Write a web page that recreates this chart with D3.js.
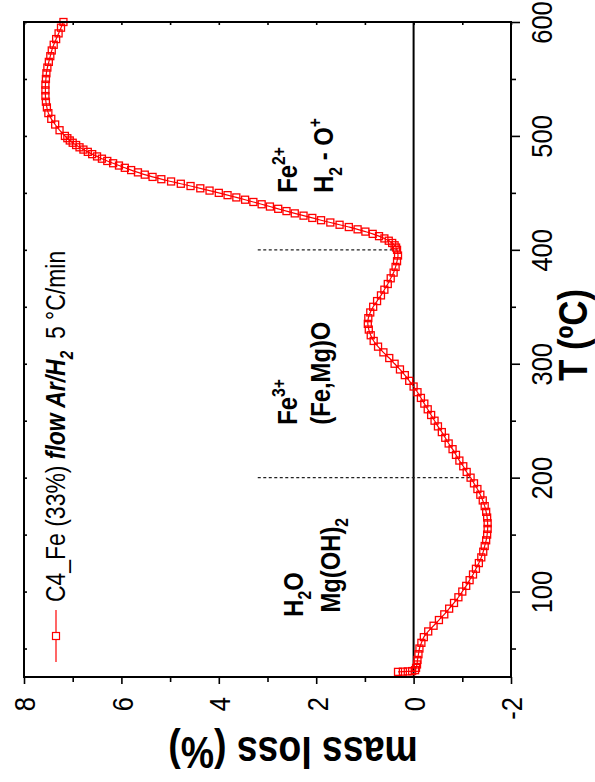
<!DOCTYPE html>
<html lang="en">
<head>
  <meta charset="UTF-8">
  <title>C4_Fe mass loss</title>
  <script src="https://d3js.org/d3.v7.min.js"></script>
  <style>
    html, body {
      margin: 0;
      background-color: #ffffff;
    }
    svg {
      display: block;
    }
  </style>
</head>
<body>
  <div id="chart"></div>

  <script type="text/javascript">
    // temperature (ºC) and mass loss (%)
    const temps = [
      29.5, 29.7, 29.9, 30.2, 31, 33, 36, 40, 45, 50, 55, 60, 65, 70, 75, 80, 85, 90, 95,
      100, 105, 110, 115, 120, 125, 130, 135, 140, 145, 150, 155, 160, 165, 170, 175, 180, 185, 190, 195,
      200, 205, 210, 215, 220, 225, 230, 235, 240, 245, 250, 255, 260, 265, 270, 275, 280, 285, 290, 295,
      300, 305, 310, 315, 320, 325, 330, 335, 340, 345, 350, 355, 360, 365, 370, 375, 380, 385, 390, 395,
      400, 402, 404, 406, 408, 410, 412, 414, 416, 418, 420, 422, 424, 426, 428, 430, 432, 434, 436, 438,
      440, 442, 444, 446, 448, 450, 452, 454, 456, 458, 460, 462, 464, 466, 468, 470, 472, 474, 476, 478,
      480, 482, 484, 486, 488, 490, 492, 494, 496, 498,
      500, 505, 510, 515, 520, 525, 530, 535, 540, 545, 550, 555, 560, 565, 570, 575, 580, 585, 590, 595, 600
    ]
    const massLoss = [
      0.32, 0.22, 0.12, 0.03, -0.03, -0.05, -0.07, -0.08, -0.1, -0.12, -0.16, -0.21, -0.3, -0.41, -0.52, -0.63, -0.73, -0.83, -0.92,
      -1.0, -1.08, -1.15, -1.22, -1.28, -1.34, -1.39, -1.43, -1.46, -1.49, -1.51, -1.52, -1.52, -1.51, -1.49, -1.46, -1.42, -1.37, -1.31, -1.24,
      -1.17, -1.09, -1.02, -0.94, -0.87, -0.8, -0.72, -0.65, -0.58, -0.5, -0.43, -0.36, -0.29, -0.22, -0.15, -0.08, 0.0, 0.09, 0.18, 0.28,
      0.39, 0.5, 0.62, 0.73, 0.82, 0.88, 0.92, 0.94, 0.93, 0.89, 0.83, 0.75, 0.67, 0.6, 0.53, 0.47, 0.41, 0.37, 0.34, 0.32,
      0.34, 0.36, 0.39, 0.44, 0.51, 0.6, 0.71, 0.84, 0.99, 1.15, 1.33, 1.52, 1.71, 1.9, 2.08, 2.26, 2.44, 2.61, 2.78, 2.95,
      3.12, 3.29, 3.46, 3.64, 3.82, 4.0, 4.19, 4.38, 4.58, 4.78, 4.98, 5.18, 5.36, 5.52, 5.66, 5.8, 5.93, 6.05, 6.17, 6.29,
      6.4, 6.5, 6.6, 6.69, 6.78, 6.86, 6.93, 7.0, 7.06, 7.11,
      7.16, 7.27, 7.36, 7.44, 7.5, 7.53, 7.55, 7.56, 7.56, 7.56, 7.55, 7.54, 7.52, 7.49, 7.46, 7.43, 7.39, 7.34, 7.29, 7.24, 7.19
    ]

    const tempTicks = [100, 200, 300, 400, 500, 600]
    const tempMinorTicks = [50, 150, 250, 350, 450, 550]
    const massTicks = [8, 6, 4, 2, 0, -2]
    const massMinorTicks = [7, 5, 3, 1, -1]
    const markedTemps = [200, 400]

    const width = 595
    const height = 782
    const plotLeft = 24
    const plotRight = 511
    const plotTop = 22
    const plotBottom = 677
    const narrow = 0.85
    const fontFamily = "'Liberation Sans', Arial, sans-serif"
    const red = '#ff0000'

    // the figure is turned a quarter turn: temperature runs upward, mass loss runs to the left
    const yT = d3.scaleLinear().domain([25, 600]).range([plotBottom, plotTop])
    const xM = d3.scaleLinear().domain([8, -2]).range([plotLeft, plotRight])

    const svg = d3.select('#chart').append('svg')
      .attr('width', width)
      .attr('height', height)
      .attr('font-family', fontFamily)

    // text helper: parts may be bold / italic / sub / sup
    const richText = (x, y, angle, size, parts, anchor) => {
      const t = svg.append('text')
        .attr('transform', `translate(${x},${y}) rotate(${angle}) scale(${narrow},1)`)
        .attr('font-size', size)
        .attr('text-anchor', anchor || 'start')
        .attr('fill', '#000')
        .style('white-space', 'pre')
      let shift = 0
      parts.forEach(p => {
        let s = 0
        if (p.sub) s = size * 0.3
        if (p.sup) s = -size * 0.42
        t.append('tspan')
          .text(p.t)
          .attr('dy', s - shift)
          .attr('dx', p.dx || 0)
          .attr('font-size', p.sub || p.sup ? size * 0.66 : size)
          .attr('font-weight', p.bold ? 'bold' : 'normal')
          .attr('font-style', p.italic ? 'italic' : 'normal')
        shift = s
      })
      return t
    }

    // zero line
    svg.append('line')
      .attr('x1', xM(0))
      .attr('x2', xM(0))
      .attr('y1', plotTop)
      .attr('y2', plotBottom)
      .attr('stroke', '#000')
      .attr('stroke-width', 2)

    // dashed markers at 200 and 400 ºC, from the labels to the curve
    svg.selectAll('.marker-line')
      .data(markedTemps)
      .enter()
      .append('line')
      .attr('class', 'marker-line')
      .attr('x1', xM(3.2))
      .attr('x2', d => xM(massLoss[temps.indexOf(d)]))
      .attr('y1', d => yT(d))
      .attr('y2', d => yT(d))
      .attr('stroke', '#222')
      .attr('stroke-width', 1.1)
      .attr('stroke-dasharray', '3,2.5')

    // curve
    const points = temps.map((t, i) => ({ t: t, m: massLoss[i] }))
    const line = d3.line()
      .x(d => xM(d.m))
      .y(d => yT(d.t))
      .curve(d3.curveCatmullRom)

    svg.append('path')
      .datum(points)
      .attr('d', line)
      .attr('fill', 'none')
      .attr('stroke', red)
      .attr('stroke-width', 1.2)

    const sq = 7
    svg.selectAll('.pt')
      .data(points)
      .enter()
      .append('rect')
      .attr('class', 'pt')
      .attr('x', d => xM(d.m) - sq / 2)
      .attr('y', d => yT(d.t) - sq / 2)
      .attr('width', sq)
      .attr('height', sq)
      .attr('fill', 'none')
      .attr('stroke', red)
      .attr('stroke-width', 1.3)

    // right axis (temperature), outward ticks
    const styleTicks = g => {
      g.select('.domain').remove()
      g.selectAll('line').attr('stroke', '#000').attr('stroke-width', 1.6)
    }

    const rightAxis = svg.append('g')
      .attr('transform', `translate(${plotRight},0)`)
      .call(d3.axisRight(yT).tickValues(tempTicks).tickSize(9).tickSizeOuter(0).tickFormat(d => String(d)))
      .attr('font-family', fontFamily)
      .attr('font-size', 30)
      .call(styleTicks)
    rightAxis.selectAll('text')
      .attr('x', null)
      .attr('dy', null)
      .attr('transform', `translate(41,0) rotate(-90) scale(${narrow},1)`)
      .attr('text-anchor', 'middle')

    svg.append('g')
      .attr('transform', `translate(${plotRight},0)`)
      .call(d3.axisRight(yT).tickValues(tempMinorTicks).tickSize(5).tickSizeOuter(0).tickFormat(''))
      .call(styleTicks)

    // bottom axis (mass loss), outward ticks
    const bottomAxis = svg.append('g')
      .attr('transform', `translate(0,${plotBottom})`)
      .call(d3.axisBottom(xM).tickValues(massTicks).tickSize(7).tickSizeOuter(0).tickFormat(d => String(d)))
      .attr('font-family', fontFamily)
      .attr('font-size', 30)
      .call(styleTicks)
    bottomAxis.selectAll('text')
      .attr('y', null)
      .attr('dy', '0.36em')
      .attr('transform', `translate(0,20) rotate(-90) scale(${narrow},1)`)
      .attr('text-anchor', 'end')

    svg.append('g')
      .attr('transform', `translate(0,${plotBottom})`)
      .call(d3.axisBottom(xM).tickValues(massMinorTicks).tickSize(5).tickSizeOuter(0).tickFormat(''))
      .call(styleTicks)

    // mirror ticks (inward) on the left and top sides
    svg.append('g')
      .attr('transform', `translate(${plotLeft},0)`)
      .call(d3.axisLeft(yT).tickValues(tempTicks.concat(tempMinorTicks)).tickSize(-3).tickSizeOuter(0).tickFormat(''))
      .call(styleTicks)

    svg.append('g')
      .attr('transform', `translate(0,${plotTop})`)
      .call(d3.axisTop(xM).tickValues(massTicks.concat(massMinorTicks)).tickSize(-3).tickSizeOuter(0).tickFormat(''))
      .call(styleTicks)

    // frame
    svg.append('rect')
      .attr('x', plotLeft)
      .attr('y', plotTop)
      .attr('width', plotRight - plotLeft)
      .attr('height', plotBottom - plotTop)
      .attr('fill', 'none')
      .attr('stroke', '#000')
      .attr('stroke-width', 2)

    // axis titles
    richText(293, 737, 180, 44, [{ t: 'mass loss (%)', bold: true }], 'middle')
    richText(587, 335, -90, 41, [{ t: 'T (ºC)', bold: true }], 'middle')

    // legend
    svg.append('line')
      .attr('x1', 56).attr('x2', 56)
      .attr('y1', 610).attr('y2', 662)
      .attr('stroke', red)
      .attr('stroke-width', 1.2)
    svg.append('rect')
      .attr('x', 56 - 3.5).attr('y', 636 - 3.5)
      .attr('width', 7).attr('height', 7)
      .attr('fill', '#fff')
      .attr('stroke', red)
      .attr('stroke-width', 1.2)
    richText(65, 602, -90, 27, [
      { t: 'C4_Fe (33%) ' },
      { t: 'flow Ar/H', bold: true, italic: true },
      { t: '2', bold: true, italic: true, sub: true },
      { t: '5 °C/min', dx: 14 }
    ])

    // annotations
    richText(xM(2.27), yT(78), -90, 28, [
      { t: 'H', bold: true }, { t: '2', bold: true, sub: true }, { t: 'O', bold: true }
    ])
    richText(xM(1.51), yT(81.6), -90, 28, [
      { t: 'Mg(OH)', bold: true }, { t: '2', bold: true, sub: true }
    ])
    richText(xM(2.39), yT(246.5), -90, 28, [
      { t: 'Fe', bold: true }, { t: '3+', bold: true, sup: true }
    ])
    richText(xM(1.72), yT(246.5), -90, 28, [
      { t: '(Fe,Mg)O', bold: true }
    ])
    richText(xM(2.39), yT(450), -90, 28, [
      { t: 'Fe', bold: true }, { t: '2+', bold: true, sup: true }
    ])
    richText(xM(1.65), yT(450), -90, 28, [
      { t: 'H', bold: true }, { t: '2', bold: true, sub: true }, { t: ' - O', bold: true }, { t: '+', bold: true, sup: true }
    ])
  </script>
</body>
</html>
